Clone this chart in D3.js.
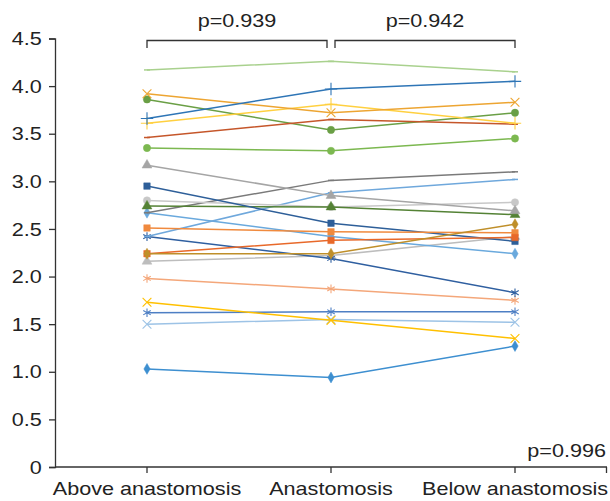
<!DOCTYPE html>
<html lang="en">
<head>
<meta charset="utf-8">
<style>
  html, body { margin: 0; padding: 0; background: #fff; }
  svg text { font-family: "Liberation Sans", Arial, sans-serif; fill: #222; }
</style>
</head>
<body>
<script src="https://cdn.jsdelivr.net/npm/d3@7"></script>
<script>
// categories on the x axis
var sites = ['Above anastomosis', 'Anastomosis', 'Below anastomosis'];
var yTicks = [0, 0.5, 1.0, 1.5, 2.0, 2.5, 3.0, 3.5, 4.0, 4.5];

// one array per subject: value at each site
var s01 = [1.03, 0.94, 1.27];
var s02 = [2.51, 2.47, 2.46];
var s03 = [3.17, 2.85, 2.69];
var s04 = [1.73, 1.54, 1.35];
var s05 = [1.62, 1.63, 1.63];
var s06 = [3.35, 3.32, 3.45];
var s07 = [3.66, 3.97, 4.05];
var s08 = [3.46, 3.65, 3.60];
var s09 = [2.67, 3.01, 3.10];
var s10 = [2.24, 2.24, 2.55];
var s11 = [2.95, 2.56, 2.37];
var s12 = [2.74, 2.73, 2.65];
var s13 = [1.50, 1.55, 1.52];
var s14 = [1.98, 1.87, 1.75];
var s15 = [2.80, 2.73, 2.78];
var s16 = [3.61, 3.81, 3.61];
var s17 = [2.42, 2.88, 3.02];
var s18 = [4.17, 4.26, 4.15];
var s19 = [3.86, 3.54, 3.72];
var s20 = [3.92, 3.72, 3.83];
var s21 = [2.67, 2.42, 2.24];
var s22 = [2.42, 2.19, 1.83];
var s23 = [2.16, 2.22, 2.42];
var s24 = [2.24, 2.38, 2.41];

var pLabels = ['p=0.939', 'p=0.942', 'p=0.996'];

// colour + marker per subject
var series = [
  {v: s18, c: '#a9d18e', m: 'dash'},
  {v: s23, c: '#bdbdbd', m: 'triangle'},
  {v: s13, c: '#9dc3e6', m: 'x'},
  {v: s05, c: '#4e7fc4', m: 'asterisk'},
  {v: s14, c: '#f4a77a', m: 'asterisk'},
  {v: s22, c: '#2f5fa0', m: 'asterisk'},
  {v: s04, c: '#ffc000', m: 'x'},
  {v: s01, c: '#3d8fd0', m: 'diamond'},
  {v: s21, c: '#6aa9dd', m: 'diamond'},
  {v: s09, c: '#7a7a7a', m: 'dash'},
  {v: s17, c: '#6fa8dc', m: 'dash'},
  {v: s15, c: '#c8c8c8', m: 'circle'},
  {v: s12, c: '#548235', m: 'triangle'},
  {v: s03, c: '#a5a5a5', m: 'triangle'},
  {v: s11, c: '#2e5f99', m: 'square'},
  {v: s02, c: '#f08a3e', m: 'square'},
  {v: s24, c: '#e8692a', m: 'square'},
  {v: s10, c: '#bf8f2a', m: 'diamond'},
  {v: s06, c: '#7cb850', m: 'circle'},
  {v: s19, c: '#6a9f45', m: 'circle'},
  {v: s08, c: '#c5562a', m: 'dash'},
  {v: s16, c: '#ffd040', m: 'plus'},
  {v: s20, c: '#eda532', m: 'x'},
  {v: s07, c: '#2e75b6', m: 'plus'}
];

var W = 610, H = 501;
var FS = 18, SX = 1.2;   // the source figure has horizontally stretched text
var svg = d3.select('body').append('svg')
  .attr('width', W).attr('height', H);

var x = d3.scaleBand().domain(sites).range([55, 607]);
var y = d3.scaleLinear().domain([0, 4.5]).range([467, 38.5]);
var cx = function(s) { return x(s) + x.bandwidth() / 2; };

// writes a stretched label at (tx, ty)
function label(sel, tx, ty, anchor, str) {
  return sel.append('text')
    .attr('transform', 'translate(' + tx + ',' + ty + ') scale(' + SX + ',1)')
    .attr('text-anchor', anchor).attr('font-size', FS)
    .text(str);
}

// y axis
var yAxis = d3.axisLeft(y).tickValues(yTicks).tickSize(6)
  .tickFormat(function(d) { return d === 0 ? '0' : d3.format('.1f')(d); });
var gy = svg.append('g').attr('transform', 'translate(55,0)').call(yAxis);
gy.select('.domain').attr('stroke', '#333').attr('stroke-width', 1.3);
gy.selectAll('.tick line').attr('stroke', '#333').attr('stroke-width', 1.3);
gy.selectAll('.tick text')
  .attr('font-size', FS).attr('fill', '#222')
  .attr('x', -11).attr('dy', '0.34em')
  .attr('transform', 'scale(' + SX + ',1)');

// x axis
var gx = svg.append('g').attr('transform', 'translate(0,467)');
gx.append('line').attr('x1', 55).attr('x2', 607)
  .attr('stroke', '#333').attr('stroke-width', 1.3);
gx.selectAll('line.tk').data(sites.concat(['end'])).enter().append('line')
  .attr('class', 'tk')
  .attr('x1', function(d) { return d === 'end' ? 606.5 : cx(d); })
  .attr('x2', function(d) { return d === 'end' ? 606.5 : cx(d); })
  .attr('y1', 0).attr('y2', 6)
  .attr('stroke', '#333').attr('stroke-width', 1.3);
sites.forEach(function(s) { label(gx, cx(s), 28, 'middle', s); });

// lines
var line = d3.line().x(function(d, i) { return cx(sites[i]); }).y(function(d) { return y(d); });

var groups = svg.append('g').selectAll('g').data(series).enter().append('g');
groups.append('path')
  .attr('d', function(d) { return line(d.v); })
  .attr('fill', 'none')
  .attr('stroke', function(d) { return d.c; })
  .attr('stroke-width', 1.5);

var symType = {
  diamond: d3.symbolDiamond, square: d3.symbolSquare, triangle: d3.symbolTriangle,
  circle: d3.symbolCircle, x: d3.symbolTimes, asterisk: d3.symbolAsterisk, plus: d3.symbolPlus
};
var filled = {diamond: true, square: true, triangle: true, circle: true};

groups.each(function(s) {
  var g = d3.select(this);
  s.v.forEach(function(val, i) {
    var px = cx(sites[i]), py = y(val);
    if (s.m === 'dash') {
      g.append('line').attr('x1', px - 3).attr('x2', px + 3)
        .attr('y1', py).attr('y2', py)
        .attr('stroke', s.c).attr('stroke-width', 1.5);
      return;
    }
    var size = filled[s.m] ? (s.m === 'diamond' ? 34 : 42) : 52;
    g.append('path')
      .attr('transform', 'translate(' + px + ',' + py + ')')
      .attr('d', d3.symbol().type(symType[s.m]).size(size)())
      .attr('fill', filled[s.m] ? s.c : 'none')
      .attr('stroke', s.c)
      .attr('stroke-width', filled[s.m] ? 0.5 : 1.1);
  });
});

// significance brackets
var brackets = [
  {a: cx(sites[0]), b: cx(sites[1]) - 4, label: pLabels[0]},
  {a: cx(sites[1]) + 4, b: cx(sites[2]), label: pLabels[1]}
];
var bg = svg.append('g');
brackets.forEach(function(br) {
  bg.append('path')
    .attr('d', 'M' + br.a + ',48V40.5H' + br.b + 'V48')
    .attr('fill', 'none').attr('stroke', '#333').attr('stroke-width', 1.3);
  label(bg, (br.a + br.b) / 2, 27, 'middle', br.label);
});
label(svg, 606, 457, 'end', pLabels[2]);
</script>
</body>
</html>
